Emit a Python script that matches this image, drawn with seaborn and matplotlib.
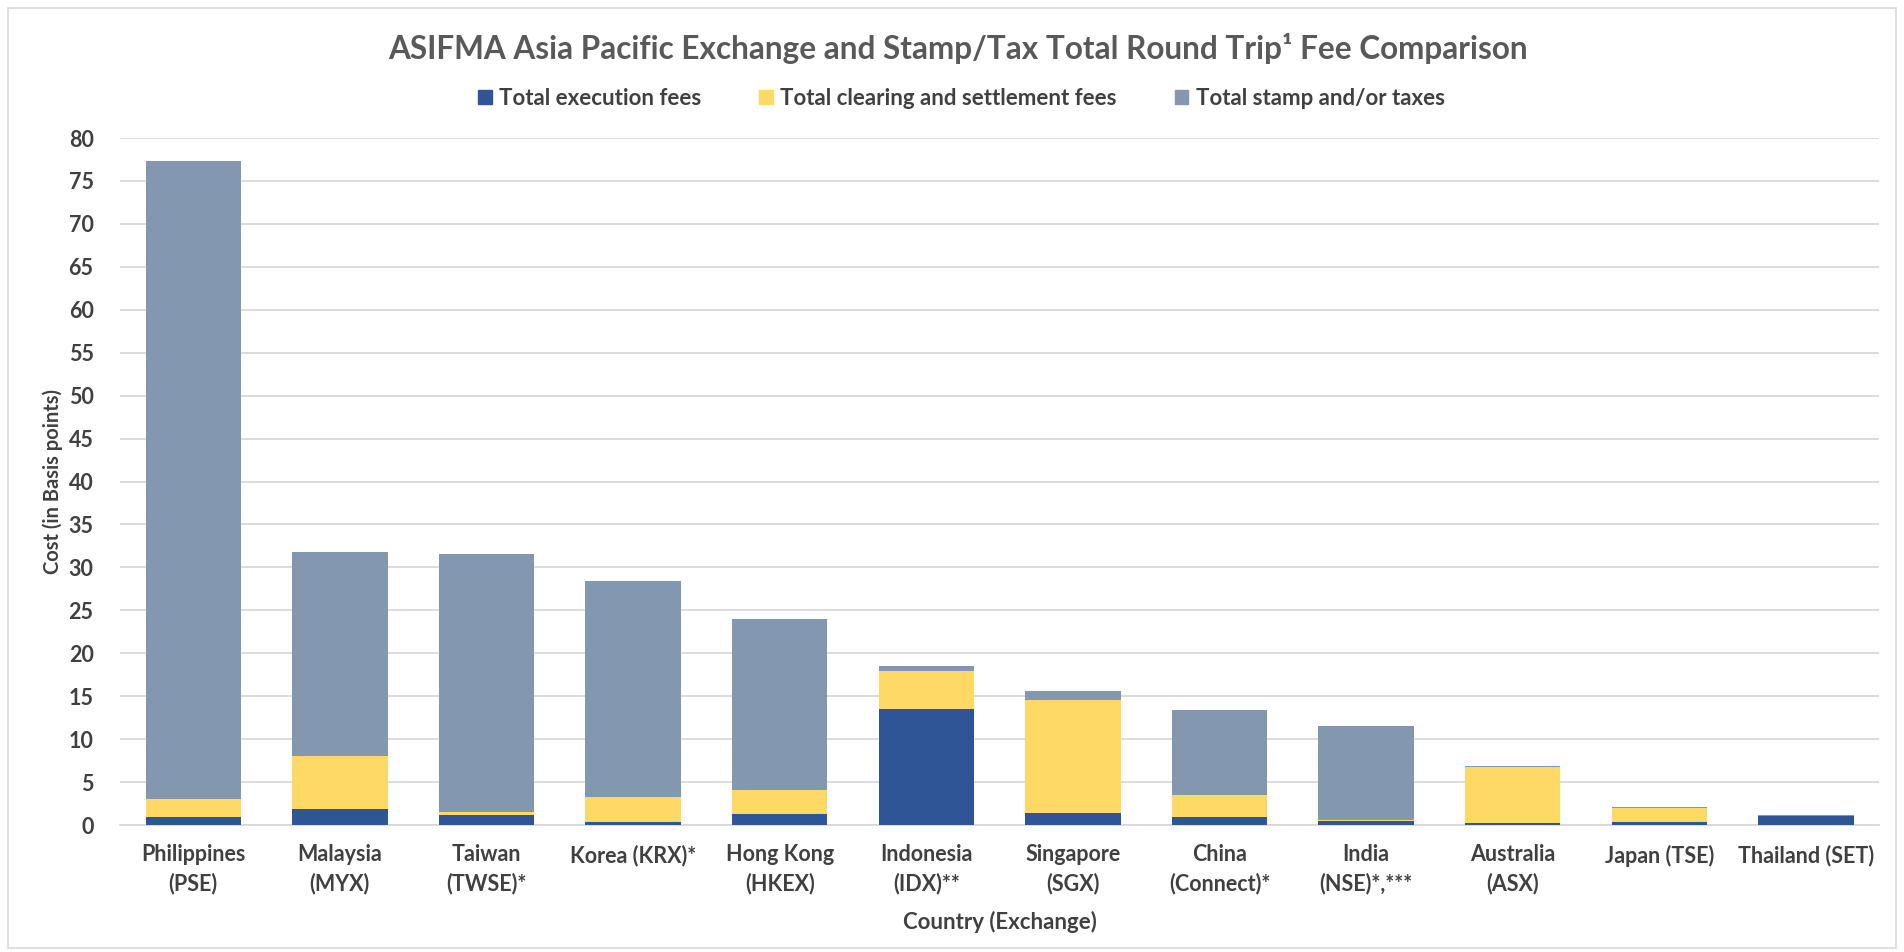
import matplotlib
matplotlib.use("Agg")
import matplotlib.pyplot as plt
import matplotlib.patches as mpatches
import pandas as pd
import seaborn as sns

countries = ["Philippines\n(PSE)", "Malaysia\n(MYX)", "Taiwan\n(TWSE)*", "Korea (KRX)*",
             "Hong Kong\n(HKEX)", "Indonesia\n(IDX)**", "Singapore\n(SGX)", "China\n(Connect)*",
             "India\n(NSE)*,***", "Australia\n(ASX)", "Japan (TSE)", "Thailand (SET)"]
execution = [0.9, 1.9, 1.2, 0.3, 1.3, 13.5, 1.4, 0.9, 0.5, 0.2, 0.4, 1.0]
clearing = [2.1, 6.1, 0.35, 3.0, 2.8, 4.45, 13.1, 2.6, 0.05, 6.55, 1.6, 0.1]
stamp = [74.3, 23.8, 30.05, 25.1, 19.9, 0.6, 1.05, 9.95, 11.0, 0.15, 0.1, 0.1]

series = ["Total execution fees", "Total clearing and settlement fees", "Total stamp and/or taxes"]
colors = ["#2F5597", "#FFD966", "#8497B0"]

df = pd.DataFrame({"Country": countries, "exec": execution, "clear": clearing, "stamp": stamp})
df["lvl1"] = df["exec"]
df["lvl2"] = df["exec"] + df["clear"]
df["lvl3"] = df["lvl2"] + df["stamp"]

sns.set_style("white")
plt.rcParams["font.family"] = ["Lato", "DejaVu Sans"]

fig = plt.figure(figsize=(19.04, 9.52), dpi=100)
ax = fig.add_axes([0.063, 0.1334, 0.924, 0.7216])

# stacked by drawing cumulative totals back to front
for col, c in zip(["lvl3", "lvl2", "lvl1"], colors[::-1]):
    sns.barplot(data=df, x="Country", y=col, color=c, width=0.65, saturation=1,
                linewidth=0, ax=ax, zorder=3)

ax.set_ylim(0, 80)
ax.set_xlim(-0.5, len(countries) - 0.5)
ax.set_yticks(range(0, 81, 5))
ax.yaxis.grid(True, color="#D9D9D9", linewidth=1.3, zorder=0)
ax.set_axisbelow(True)
for s in ["top", "right", "left"]:
    ax.spines[s].set_visible(False)
ax.spines["bottom"].set_color("#D9D9D9")
ax.spines["bottom"].set_linewidth(1.3)
ax.tick_params(axis="both", length=0, labelsize=15.5, labelcolor="#404040")
ax.tick_params(axis="x", pad=14)
ax.tick_params(axis="y", pad=19)
for lab in ax.get_xticklabels():
    lab.set_fontweight("bold")
    lab.set_linespacing(1.4)
for lab in ax.get_yticklabels():
    lab.set_fontweight("bold")
ax.set_ylabel("Cost (in Basis points)", fontsize=14.5, fontweight="bold", color="#404040", labelpad=4)
ax.set_xlabel("Country (Exchange)", fontsize=16, fontweight="bold", color="#404040", labelpad=12)

fig.text(0.503, 0.949, "ASIFMA Asia Pacific Exchange and Stamp/Tax Total Round Trip¹ Fee Comparison",
         ha="center", va="center", fontsize=22.7, fontweight="bold", color="#595959")

handles = [mpatches.Patch(color=c, label=l) for c, l in zip(colors, series)]
leg = fig.legend(handles=handles, loc="center", bbox_to_anchor=(0.505, 0.897), ncol=3, frameon=False,
                 fontsize=16, handlelength=0.6, handleheight=0.6, columnspacing=2.6, handletextpad=0.35)
for t in leg.get_texts():
    t.set_color("#404040")
    t.set_fontweight("bold")

fig.patches.append(mpatches.Rectangle((0.004, 0.004), 0.992, 0.988, transform=fig.transFigure,
                                      fill=False, edgecolor="#D9D9D9", linewidth=1.2))

fig.savefig("out.png", dpi=100)
